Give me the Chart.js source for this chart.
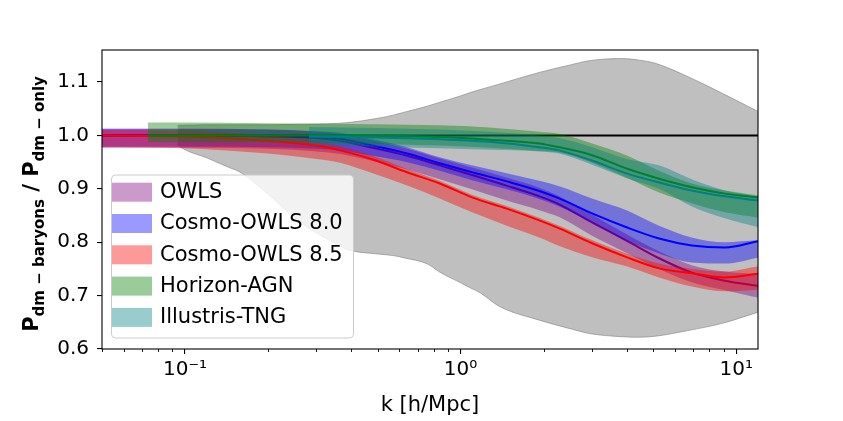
<!DOCTYPE html>
<html>
<head>
<meta charset="utf-8">
<script src="https://cdn.jsdelivr.net/npm/chart.js@4.4.0/dist/chart.umd.min.js"></script>
<style>
  html, body { margin: 0; padding: 0; background: #fff; }
</style>
</head>
<body>
<canvas id="powerChart" width="843" height="421"></canvas>
<script>

// DATA ########################################################################

// OWLS + Cosmo-OWLS share one k grid [h/Mpc]
var kOwls = [0.05, 0.1, 0.2, 0.3, 0.365, 0.48, 0.64, 0.84, 1.1, 1.47, 1.93, 2.28, 3.0, 4.0, 5.25, 6.9, 9.1, 12];

var owlsLine  = [1.0, 1.0, 0.998, 0.995, 0.99, 0.977, 0.962, 0.944, 0.926, 0.906, 0.886, 0.871, 0.837, 0.803, 0.770, 0.743, 0.728, 0.718];
var owlsUpper = [1.013, 1.013, 1.011, 1.007, 1.003, 0.99, 0.975, 0.957, 0.940, 0.921, 0.902, 0.886, 0.852, 0.815, 0.783, 0.757, 0.745, 0.740];
var owlsLower = [0.977, 0.977, 0.975, 0.97, 0.965, 0.952, 0.936, 0.918, 0.899, 0.878, 0.86, 0.847, 0.812, 0.780, 0.750, 0.725, 0.710, 0.696];

var c80Line  = [1.0, 1.0, 0.999, 0.997, 0.994, 0.981, 0.966, 0.948, 0.931, 0.914, 0.896, 0.882, 0.854, 0.828, 0.807, 0.794, 0.790, 0.802];
var c80Upper = [1.012, 1.012, 1.011, 1.008, 1.005, 0.993, 0.978, 0.959, 0.944, 0.929, 0.915, 0.905, 0.882, 0.860, 0.831, 0.809, 0.800, 0.804];
var c80Lower = [0.979, 0.979, 0.978, 0.975, 0.972, 0.962, 0.950, 0.934, 0.916, 0.899, 0.881, 0.867, 0.837, 0.803, 0.779, 0.762, 0.760, 0.771];

var c85Line  = [1.0, 0.998, 0.99, 0.981, 0.972, 0.955, 0.931, 0.910, 0.884, 0.863, 0.841, 0.826, 0.798, 0.772, 0.751, 0.742, 0.734, 0.741];
var c85Upper = [1.01, 1.009, 1.0, 0.99, 0.98, 0.962, 0.937, 0.915, 0.889, 0.868, 0.846, 0.831, 0.804, 0.779, 0.76, 0.75, 0.745, 0.755];
var c85Lower = [0.978, 0.976, 0.966, 0.956, 0.949, 0.929, 0.906, 0.882, 0.856, 0.831, 0.809, 0.793, 0.772, 0.755, 0.734, 0.717, 0.708, 0.711];

var kHorizon = [0.0733, 0.1, 0.2, 0.3, 0.5, 0.84, 1.27, 1.93, 2.28, 3.0, 4.0, 5.25, 6.9, 9.1, 12];
var horizonLine  = [1.0, 1.0, 1.0, 1.0, 1.0, 0.997, 0.992, 0.985, 0.978, 0.963, 0.938, 0.919, 0.903, 0.891, 0.884];
var horizonUpper = [1.024, 1.024, 1.023, 1.022, 1.021, 1.019, 1.015, 1.007, 1.003, 0.985, 0.963, 0.934, 0.910, 0.897, 0.888];
var horizonLower = [0.987, 0.987, 0.987, 0.986, 0.984, 0.981, 0.977, 0.971, 0.968, 0.949, 0.921, 0.893, 0.873, 0.856, 0.846];

var kTng = [0.282, 0.5, 0.84, 1.27, 1.93, 2.28, 3.0, 4.0, 5.25, 6.9, 9.1, 12];
var tngLine  = [0.998, 0.996, 0.993, 0.988, 0.978, 0.972, 0.953, 0.929, 0.912, 0.897, 0.886, 0.878];
var tngUpper = [1.016, 1.014, 1.011, 1.007, 1.0, 0.995, 0.978, 0.956, 0.944, 0.918, 0.897, 0.886];
var tngLower = [0.983, 0.979, 0.976, 0.973, 0.970, 0.966, 0.945, 0.920, 0.900, 0.867, 0.845, 0.828];

// grey envelope of all models
var kEnv = [0.094, 0.097, 0.12, 0.143, 0.16, 0.205, 0.264, 0.33, 0.39, 0.5, 0.57, 0.62, 0.76, 0.84, 1.0, 1.08, 1.18, 1.38, 1.93, 2.5, 2.93, 3.86, 4.45, 5.1, 6.75, 8.9, 12];
var envUpper = [1.019, 1.019, 1.02, 1.02, 1.02, 1.02, 1.021, 1.022, 1.024, 1.032, 1.038, 1.043, 1.055, 1.062, 1.074, 1.08, 1.086, 1.096, 1.118, 1.132, 1.140, 1.144, 1.141, 1.135, 1.109, 1.079, 1.045];
var envLower = [0.983, 0.977, 0.958, 0.941, 0.930, 0.885, 0.836, 0.805, 0.786, 0.778, 0.775, 0.771, 0.759, 0.744, 0.724, 0.715, 0.705, 0.680, 0.654, 0.638, 0.629, 0.623, 0.622, 0.624, 0.635, 0.648, 0.669];

var refK = [0.05, 12];
var refLine = [1.0, 1.0];

var names = ["OWLS", "Cosmo-OWLS 8.0", "Cosmo-OWLS 8.5", "Horizon-AGN", "Illustris-TNG"];
var yTicks = [0.6, 0.7, 0.8, 0.9, 1.0, 1.1];
var xMajorTicks = [0.1, 1, 10];
var xMajorLabels = ["10\u207B\u00B9", "10\u2070", "10\u00B9"];
var xMinorTicks = [0.05, 0.06, 0.07, 0.08, 0.09, 0.2, 0.3, 0.4, 0.5, 0.6, 0.7, 0.8, 0.9,
                   2, 3, 4, 5, 6, 7, 8, 9];

var fillColors = ["rgba(128,0,128,0.4)", "rgba(0,0,255,0.4)", "rgba(255,0,0,0.4)",
                  "rgba(0,128,0,0.4)", "rgba(0,128,128,0.4)"];
var lineColors = ["#800080", "#0000ff", "#ff0000", "#008000", "#008080"];

var FONT = "'DejaVu Sans', sans-serif";


// DATASETS ####################################################################

function pts(ks, vs) {
    return ks.map(function (k, i) { return {x: k, y: vs[i]}; });
}

var datasets = [];

function addBand(name, ks, up, lo, line, idx, order) {
    datasets.push({
        label: name + " upper", data: pts(ks, up), fill: "+1",
        backgroundColor: fillColors[idx], borderColor: "transparent",
        borderWidth: 0, pointRadius: 0, order: order
    });
    datasets.push({
        label: name + " lower", data: pts(ks, lo), fill: false,
        borderColor: "transparent", borderWidth: 0, pointRadius: 0, order: order
    });
    datasets.push({
        label: name, data: pts(ks, line), fill: false,
        borderColor: lineColors[idx], borderWidth: 2, pointRadius: 0, order: order - 1
    });
}

// envelope at the bottom, then reference line
datasets.push({
    label: "envelope upper", data: pts(kEnv, envUpper), fill: "+1",
    backgroundColor: "rgba(128,128,128,0.5)", borderColor: "rgba(128,128,128,0.6)",
    borderWidth: 1, pointRadius: 0, order: 100
});
datasets.push({
    label: "envelope lower", data: pts(kEnv, envLower), fill: false,
    borderColor: "rgba(128,128,128,0.6)", borderWidth: 1, pointRadius: 0, order: 100
});
datasets.push({
    label: "unity", data: pts(refK, refLine), fill: false,
    borderColor: "#000", borderWidth: 2, pointRadius: 0, order: 90
});

addBand(names[0], kOwls, owlsUpper, owlsLower, owlsLine, 0, 50);
addBand(names[1], kOwls, c80Upper, c80Lower, c80Line, 1, 40);
addBand(names[2], kOwls, c85Upper, c85Lower, c85Line, 2, 30);
addBand(names[3], kHorizon, horizonUpper, horizonLower, horizonLine, 3, 20);
addBand(names[4], kTng, tngUpper, tngLower, tngLine, 4, 10);


// PLUGINS #####################################################################

var framePlugin = {
    id: "frame",
    afterDatasetsDraw: function (chart) {
        var ctx = chart.ctx, a = chart.chartArea, xs = chart.scales.x;
        ctx.save();
        ctx.strokeStyle = "#000";
        ctx.lineWidth = 1.1;
        ctx.strokeRect(a.left, a.top, a.right - a.left, a.bottom - a.top);
        // minor log ticks
        ctx.lineWidth = 0.9;
        ctx.beginPath();
        xMinorTicks.forEach(function (v) {
            var px = Math.round(xs.getPixelForValue(v)) + 0.5;
            ctx.moveTo(px, a.bottom);
            ctx.lineTo(px, a.bottom + 3);
        });
        ctx.stroke();
        ctx.restore();
    }
};

var legendAndTitlePlugin = {
    id: "legendAndTitle",
    afterDraw: function (chart) {
        var ctx = chart.ctx;
        ctx.save();

        // legend box
        var bx = 111.5, by = 175, bw = 242, bh = 163, r = 4;
        ctx.beginPath();
        ctx.moveTo(bx + r, by);
        ctx.arcTo(bx + bw, by, bx + bw, by + bh, r);
        ctx.arcTo(bx + bw, by + bh, bx, by + bh, r);
        ctx.arcTo(bx, by + bh, bx, by, r);
        ctx.arcTo(bx, by, bx + bw, by, r);
        ctx.closePath();
        ctx.fillStyle = "rgba(255,255,255,0.8)";
        ctx.fill();
        ctx.strokeStyle = "rgba(204,204,204,1)";
        ctx.lineWidth = 1;
        ctx.stroke();

        ctx.font = "21px " + FONT;
        ctx.textBaseline = "middle";
        ctx.textAlign = "left";
        names.forEach(function (name, i) {
            var top = 182.7 + i * 31.3;
            ctx.fillStyle = fillColors[i];
            ctx.fillRect(112, top, 40, 19);
            ctx.fillStyle = "#000";
            ctx.fillText(name, 160, top + 10);
        });

        // y axis title with subscripts
        var parts = [
            {t: "P", big: true},
            {t: "dm \u2212 baryons", big: false},
            {t: " / P", big: true},
            {t: "dm \u2212 only", big: false}
        ];
        var bigFont = "bold 21px " + FONT, smallFont = "bold 15px " + FONT;
        var total = 0;
        parts.forEach(function (p) {
            ctx.font = p.big ? bigFont : smallFont;
            p.w = ctx.measureText(p.t).width;
            total += p.w;
        });
        ctx.translate(38, 204);
        ctx.rotate(-Math.PI / 2);
        ctx.textBaseline = "alphabetic";
        ctx.fillStyle = "#000";
        var x = -total / 2;
        parts.forEach(function (p) {
            ctx.font = p.big ? bigFont : smallFont;
            ctx.fillText(p.t, x, p.big ? 0 : 6);
            x += p.w;
        });
        ctx.restore();
    }
};


// CHART #######################################################################

var ctx_chart = document.getElementById("powerChart");
var myChart = new Chart(ctx_chart, {
    type: "line",
    data: {datasets: datasets},
    options: {
        responsive: false,
        animation: false,
        events: [],
        layout: {padding: {top: 50, right: 85, left: 0, bottom: 0}},
        elements: {line: {cubicInterpolationMode: "monotone"}},
        plugins: {
            legend: {display: false},
            tooltip: {enabled: false}
        },
        scales: {
            x: {
                type: "logarithmic",
                min: 0.05,
                max: 12,
                afterBuildTicks: function (scale) {
                    scale.ticks = xMajorTicks.map(function (v) { return {value: v, major: true}; });
                },
                afterFit: function (scale) { scale.height = 72; },
                ticks: {
                    autoSkip: false,
                    maxRotation: 0,
                    color: "#000",
                    padding: 4,
                    font: {family: FONT, size: 20},
                    callback: function (value) {
                        var i = xMajorTicks.indexOf(value);
                        return i >= 0 ? xMajorLabels[i] : "";
                    }
                },
                grid: {drawOnChartArea: false, drawTicks: true, tickLength: 5, color: "#000", lineWidth: 1.1},
                border: {display: false},
                title: {
                    display: true,
                    text: "k [h/Mpc]",
                    color: "#000",
                    font: {family: FONT, size: 21},
                    padding: {top: 0, bottom: 3}
                }
            },
            y: {
                type: "linear",
                min: 0.6,
                max: 1.16,
                afterBuildTicks: function (scale) {
                    scale.ticks = yTicks.map(function (v) { return {value: v}; });
                },
                afterFit: function (scale) { scale.width = 102; },
                ticks: {
                    color: "#000",
                    padding: 8,
                    font: {family: FONT, size: 20},
                    callback: function (value) { return Number(value).toFixed(1); }
                },
                grid: {drawOnChartArea: false, drawTicks: true, tickLength: 5, color: "#000", lineWidth: 1.1},
                border: {display: false}
            }
        }
    },
    plugins: [framePlugin, legendAndTitlePlugin]
});
</script>
</body>
</html>
